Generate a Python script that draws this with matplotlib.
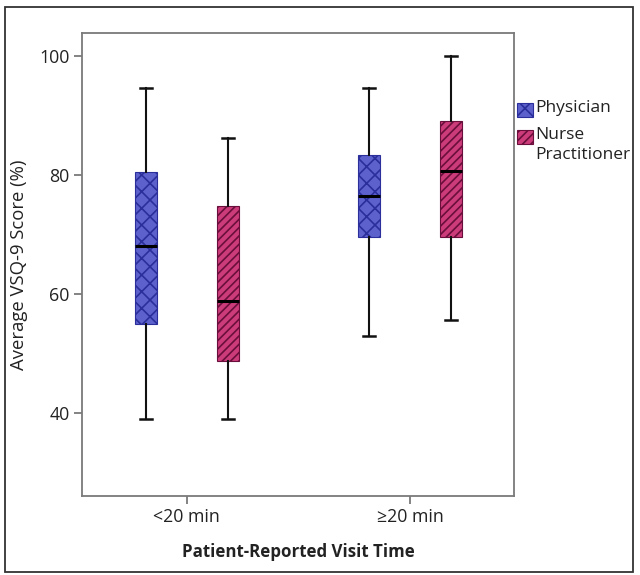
import matplotlib
matplotlib.use("Agg")
import matplotlib.pyplot as plt
from matplotlib.patches import Rectangle

plt.rcParams['font.family'] = ['Open Sans', 'DejaVu Sans']
plt.rcParams['hatch.linewidth'] = 1.2

groups = ["<20 min", "\u226520 min"]
series = ["Physician", "Nurse\nPractitioner"]
# per series, one value per group: low whisker, q1, median, q3, high whisker
physician_low = [39.0, 53.0]
physician_q1 = [55.0, 69.5]
physician_med = [68.0, 76.5]
physician_q3 = [80.5, 83.4]
physician_high = [94.5, 94.5]

nurse_low = [39.0, 55.6]
nurse_q1 = [48.7, 69.5]
nurse_med = [58.9, 80.6]
nurse_q3 = [74.7, 89.0]
nurse_high = [86.2, 100.0]

yticks = [40, 60, 80, 100]

face_colors = ["#5c61cc", "#cc3b7a"]
hatch_colors = ["#2a2f9c", "#6a0f3c"]
hatches = ["xx", "////"]

fig = plt.figure(figsize=(6.4, 5.75), dpi=100)
ax = fig.add_axes([82 / 640, 1 - 496 / 575, (514 - 82) / 640, (496 - 33) / 575])

offset = 0.183
width = 0.098
all_stats = [
    (physician_low, physician_q1, physician_med, physician_q3, physician_high),
    (nurse_low, nurse_q1, nurse_med, nurse_q3, nurse_high),
]
for s, (lo, q1, med, q3, hi) in enumerate(all_stats):
    stats = []
    for g in range(len(groups)):
        stats.append(dict(whislo=lo[g], q1=q1[g], med=med[g], q3=q3[g], whishi=hi[g], fliers=[]))
    pos = [g + (offset if s else -offset) for g in range(len(groups))]
    bp = ax.bxp(stats, positions=pos, widths=width, patch_artist=True,
                showfliers=False, manage_ticks=False,
                boxprops=dict(facecolor=face_colors[s], edgecolor=hatch_colors[s], linewidth=0.8),
                medianprops=dict(color="black", linewidth=2.2),
                whiskerprops=dict(color="#111111", linewidth=1.5),
                capprops=dict(color="#111111", linewidth=1.8),
                capwidths=width * 0.55)
    for b in bp['boxes']:
        b.set_hatch(hatches[s])
        b.set_zorder(2)
    for m in bp['medians']:
        m.set_zorder(3)

ax.set_xlim(-0.469, 1.464)
ax.set_ylim(26.1, 103.8)
ax.set_xticks(range(len(groups)))
ax.set_xticklabels(groups, fontsize=12.8, color="#222222")
ax.set_yticks(yticks)
ax.set_yticklabels([str(v) for v in yticks], fontsize=12.8, color="#222222")
for sp in ax.spines.values():
    sp.set_color("#7a7a7a")
    sp.set_linewidth(1.3)
ax.tick_params(axis='both', length=6, width=1.3, color="#7a7a7a", pad=3)
ax.set_ylabel("Average VSQ-9 Score (%)", fontsize=13.3, color="#222222", labelpad=8)
ax.set_xlabel("Patient-Reported Visit Time", fontsize=12.2, fontweight="bold", color="#222222", labelpad=12)

# legend drawn manually (patch aligned with first line of label)
leg_rows = [(103, 117), (130, 144)]
for i, (y0, y1) in enumerate(leg_rows):
    fig.patches.append(Rectangle((517 / 640, 1 - y1 / 575), 16 / 640, (y1 - y0) / 575,
                                 transform=fig.transFigure, facecolor=face_colors[i],
                                 edgecolor=hatch_colors[i], hatch=hatches[i], linewidth=0.8))
    fig.text(535 / 640, 1 - (y0 - 3) / 575, series[i], ha="left", va="top",
             fontsize=12.5, color="#222222", linespacing=1.35)

fig.patches.append(Rectangle((5 / 640, 3 / 575), 628 / 640, 565 / 575, transform=fig.transFigure,
                             fill=False, edgecolor="#333333", linewidth=1.3))

fig.savefig("out.png", dpi=100)
